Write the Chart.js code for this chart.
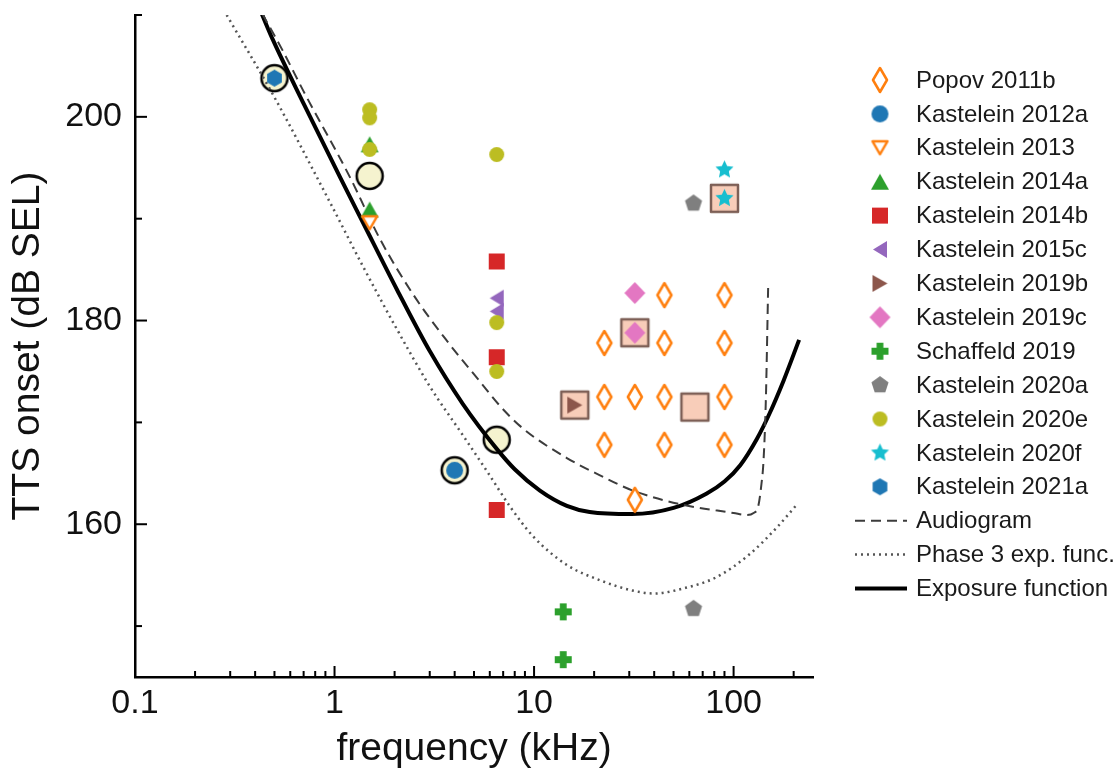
<!DOCTYPE html>
<html>
<head>
<meta charset="utf-8">
<script src="https://cdn.jsdelivr.net/npm/chart.js@4.4.1/dist/chart.umd.min.js"></script>
<style>
  html, body { margin: 0; padding: 0; background: #fff; }
  #caixa { width: 1120px; height: 773px; position: relative; }
</style>
</head>
<body>
<div id="caixa"><canvas id="grafico"></canvas></div>
<script>
// Eixos
const marcasX = [0.1, 0.2, 0.3, 0.4, 0.5, 0.6, 0.7, 0.8, 0.9, 1, 2, 3, 4, 5, 6, 7, 8, 9,
                 10, 20, 30, 40, 50, 60, 70, 80, 90, 100, 200];
const rotulosX = [0.1, 1, 10, 100];
const marcasY = [150, 160, 170, 180, 190, 200, 210];
const rotulosY = [160, 180, 200];

// Dados: frequencia (kHz) e TTS onset (dB SEL)
const popovFreq  = [45, 90, 22.5, 45, 90, 22.5, 32, 45, 90, 22.5, 45, 90, 32];
const popovNivel = [182.5, 182.5, 177.8, 177.8, 177.8, 172.5, 172.5, 172.5, 172.5, 167.8, 167.8, 167.8, 162.4];
const k2012aFreq = [4];            const k2012aNivel = [165.3];
const k2013Freq  = [1.5];          const k2013Nivel  = [189.6];
const k2014aFreq = [1.5, 1.5];     const k2014aNivel = [197.3, 190.9];
const k2014bFreq = [6.5, 6.5, 6.5]; const k2014bNivel = [185.8, 176.4, 161.4];
const k2015cFreq = [6.5, 6.5];     const k2015cNivel = [182.2, 180.9];
const k2019bFreq = [16];           const k2019bNivel = [171.7];
const k2019cFreq = [32, 32];       const k2019cNivel = [182.7, 178.8];
const schaffeldFreq = [14, 14];    const schaffeldNivel = [151.4, 146.7];
const k2020aFreq = [63, 63];       const k2020aNivel = [191.5, 151.7];
const k2020eFreq = [1.5, 1.5, 1.5, 6.5, 6.5, 6.5];
const k2020eNivel = [200.7, 199.9, 196.8, 196.3, 179.8, 175.0];
const k2020fFreq = [90, 90];       const k2020fNivel = [194.8, 192.0];
const k2021aFreq = [0.5];          const k2021aNivel = [203.8];
const aneisFreq  = [0.5, 1.5, 4, 6.5];   const aneisNivel  = [203.8, 194.2, 165.3, 168.3];
const caixasFreq = [16, 32, 64, 90];     const caixasNivel = [171.7, 178.8, 171.5, 192.0];

// Curvas
const audioFreq  = [0.435, 0.55, 0.70, 1.2, 1.69, 2.47, 3.66, 5.36, 6.76, 8.8, 14.6, 21.4, 31.3, 56, 100, 116, 126, 133, 138, 141, 145, 149];
const audioNivel = [210.1, 206.5, 202.5, 194.0, 188.0, 182.6, 178.0, 174.0, 171.6, 169.4, 166.5, 164.8, 163.3, 161.9, 161.1, 160.9, 161.1, 161.8, 164.0, 166.0, 172.0, 183.3];
const fase3Freq  = [0.288, 0.494, 0.949, 1.39, 2.06, 3.01, 4.41, 5.81, 7.6, 9.9, 14.6, 21.4, 31, 40, 56, 82, 121, 165, 207];
const fase3Nivel = [210.0, 202.1, 191.6, 185.3, 179.1, 173.5, 168.7, 165.2, 161.7, 158.8, 156.0, 154.5, 153.5, 153.2, 153.7, 154.8, 157.1, 159.7, 161.9];
const expoFreq   = [0.43, 0.49, 0.70, 1.07, 1.39, 2.06, 3.0, 4.4, 6.5, 8.0, 10.7, 14.6, 19, 31, 50, 73, 90, 108, 131, 150, 178, 213];
const expoNivel  = [210.2, 207.6, 201.3, 194.0, 189.6, 183.0, 177.0, 171.8, 167.4, 165.4, 163.3, 161.8, 161.2, 161.0, 161.6, 163.0, 164.2, 165.8, 168.4, 170.7, 174.1, 178.1];

const fonte = "'Liberation Sans', Arial, Helvetica, sans-serif";

function pares(fx, ny) { return fx.map((f, i) => ({ x: f, y: ny[i] })); }

// Marcadores desenhados num canvas pequeno
function marcador(forma, cor, w, h, contorno) {
  const pad = 4;
  const c = document.createElement('canvas');
  c.width = Math.ceil(w + pad * 2); c.height = Math.ceil(h + pad * 2);
  const g = c.getContext('2d');
  const cx = c.width / 2, cy = c.height / 2;
  const poli = (pts) => { g.moveTo(cx + pts[0][0], cy + pts[0][1]); pts.slice(1).forEach(p => g.lineTo(cx + p[0], cy + p[1])); g.closePath(); };
  g.beginPath();
  if (forma === 'circulo') g.arc(cx, cy, w / 2, 0, Math.PI * 2);
  else if (forma === 'quadrado') g.rect(cx - w / 2, cy - h / 2, w, h);
  else if (forma === 'losango') poli([[0, -h / 2], [w / 2, 0], [0, h / 2], [-w / 2, 0]]);
  else if (forma === 'triCima') poli([[0, -h / 2], [w / 2, h / 2], [-w / 2, h / 2]]);
  else if (forma === 'triBaixo') poli([[-w / 2, -h / 2], [w / 2, -h / 2], [0, h / 2]]);
  else if (forma === 'triEsq') poli([[-w / 2, 0], [w / 2, -h / 2], [w / 2, h / 2]]);
  else if (forma === 'triDir') poli([[w / 2, 0], [-w / 2, -h / 2], [-w / 2, h / 2]]);
  else if (forma === 'cruz') {
    const a = w / 2, t = w * 0.2;
    poli([[-t, -a], [t, -a], [t, -t], [a, -t], [a, t], [t, t], [t, a], [-t, a], [-t, t], [-a, t], [-a, -t], [-t, -t]]);
  } else if (forma === 'pentagono' || forma === 'hexagono') {
    const n = forma === 'pentagono' ? 5 : 6, pts = [];
    for (let i = 0; i < n; i++) { const ang = -Math.PI / 2 + i * 2 * Math.PI / n; pts.push([w / 2 * Math.cos(ang), w / 2 * Math.sin(ang)]); }
    poli(pts);
  } else if (forma === 'estrela') {
    const pts = [];
    for (let i = 0; i < 10; i++) { const r = i % 2 ? w * 0.24 : w / 2; const ang = -Math.PI / 2 + i * Math.PI / 5; pts.push([r * Math.cos(ang), r * Math.sin(ang)]); }
    poli(pts);
  }
  if (contorno) {
    g.fillStyle = contorno.fundo; g.fill();
    g.lineWidth = contorno.espessura; g.strokeStyle = cor; g.lineJoin = 'round'; g.stroke();
  } else { g.fillStyle = cor; g.fill(); }
  return c;
}

const laranja = '#ff7f0e', azul = '#1f77b4', verde = '#2ca02c', vermelho = '#d62728', roxo = '#9467bd',
      marrom = '#8c564b', rosa = '#e377c2', cinza = '#7f7f7f', oliva = '#bcbd22', ciano = '#17becf';

function serie(rotulo, fx, ny, estilo, ordem) {
  return { label: rotulo, data: pares(fx, ny), pointStyle: estilo, pointRadius: 8, order: ordem || 0, legenda: true };
}
function curva(rotulo, fx, ny, cor, largura, tracejado) {
  return { label: rotulo, data: pares(fx, ny), showLine: true, pointRadius: 0, borderColor: cor, borderWidth: largura,
           borderDash: tracejado, cubicInterpolationMode: 'monotone', order: 5, legenda: true };
}

const datasets = [
  serie('Popov 2011b', popovFreq, popovNivel, marcador('losango', laranja, 14, 24, { fundo: '#fff', espessura: 2.5 })),
  serie('Kastelein 2012a', k2012aFreq, k2012aNivel, marcador('circulo', azul, 17, 17)),
  serie('Kastelein 2013', k2013Freq, k2013Nivel, marcador('triBaixo', laranja, 15, 13, { fundo: '#fff', espessura: 2.5 })),
  serie('Kastelein 2014a', k2014aFreq, k2014aNivel, marcador('triCima', verde, 18, 16)),
  serie('Kastelein 2014b', k2014bFreq, k2014bNivel, marcador('quadrado', vermelho, 16, 16)),
  serie('Kastelein 2015c', k2015cFreq, k2015cNivel, marcador('triEsq', roxo, 14, 17)),
  serie('Kastelein 2019b', k2019bFreq, k2019bNivel, marcador('triDir', marrom, 15, 17)),
  serie('Kastelein 2019c', k2019cFreq, k2019cNivel, marcador('losango', rosa, 21, 22)),
  serie('Schaffeld 2019', schaffeldFreq, schaffeldNivel, marcador('cruz', verde, 17, 17)),
  serie('Kastelein 2020a', k2020aFreq, k2020aNivel, marcador('pentagono', cinza, 18, 18)),
  serie('Kastelein 2020e', k2020eFreq, k2020eNivel, marcador('circulo', oliva, 15, 15), -1),
  serie('Kastelein 2020f', k2020fFreq, k2020fNivel, marcador('estrela', ciano, 19, 19)),
  serie('Kastelein 2021a', k2021aFreq, k2021aNivel, marcador('hexagono', azul, 17, 17)),
  curva('Audiogram', audioFreq, audioNivel, '#3c3c3c', 2, [10, 6]),
  curva('Phase 3 exp. func.', fase3Freq, fase3Nivel, '#555', 2.5, [2, 4]),
  curva('Exposure function', expoFreq, expoNivel, '#000', 4, []),
  { label: 'aneis', data: pares(aneisFreq, aneisNivel), pointStyle: marcador('circulo', '#000', 26, 26, { fundo: '#f5f3cf', espessura: 2.5 }),
    pointRadius: 13, order: 10, legenda: false },
  { label: 'caixas', data: pares(caixasFreq, caixasNivel), pointStyle: marcador('quadrado', '#7d5f56', 27, 27, { fundo: '#f8cdb9', espessura: 2.5 }),
    pointRadius: 13, order: 10, legenda: false }
];

// Marcas para dentro + legenda
const extras = {
  id: 'extras',
  afterDraw(chart) {
    const { ctx, chartArea: a, scales: { x, y } } = chart;
    ctx.save();
    ctx.strokeStyle = '#000'; ctx.lineWidth = 2;
    marcasX.forEach(v => {
      const px = x.getPixelForValue(v);
      const len = rotulosX.includes(v) ? 11 : 6;
      ctx.beginPath(); ctx.moveTo(px, a.bottom); ctx.lineTo(px, a.bottom - len); ctx.stroke();
    });
    marcasY.forEach(v => {
      const py = y.getPixelForValue(v);
      const len = rotulosY.includes(v) ? 12 : 7;
      ctx.beginPath(); ctx.moveTo(a.left, py); ctx.lineTo(a.left + len, py); ctx.stroke();
    });

    // legenda
    let ly = 80;
    ctx.font = '24px ' + fonte; ctx.fillStyle = '#1a1a1a'; ctx.textBaseline = 'middle'; ctx.textAlign = 'left';
    chart.data.datasets.filter(d => d.legenda).forEach(d => {
      if (d.showLine) {
        ctx.save();
        ctx.strokeStyle = d.borderColor; ctx.lineWidth = d.borderWidth; ctx.setLineDash(d.borderDash);
        ctx.beginPath(); ctx.moveTo(855, ly); ctx.lineTo(907, ly); ctx.stroke();
        ctx.restore();
      } else {
        const im = d.pointStyle;
        ctx.drawImage(im, 880 - im.width / 2, ly - im.height / 2);
      }
      ctx.fillText(d.label, 916, ly + 1);
      ly += 33.9;
    });
    ctx.restore();
  }
};

new Chart(document.getElementById('grafico'), {
  type: 'scatter',
  data: { datasets },
  plugins: [extras],
  options: {
    responsive: true, maintainAspectRatio: false, animation: false, devicePixelRatio: 1,
    layout: { padding: { left: 0, right: 307, top: 15, bottom: 0 } },
    plugins: { legend: { display: false }, tooltip: { enabled: false } },
    scales: {
      x: {
        type: 'logarithmic', min: 0.1, max: 250,
        afterBuildTicks: s => { s.ticks = marcasX.map(v => ({ value: v })); },
        afterFit: s => { s.height = 96; s.paddingLeft = 0; s.paddingRight = 0; },
        grid: { display: true, drawOnChartArea: false, drawTicks: false, color: 'rgba(0,0,0,0)' },
        border: { display: true, color: '#000', width: 2.5 },
        ticks: { autoSkip: false, maxRotation: 0, padding: 6, color: '#111', font: { family: fonte, size: 34 },
                 callback: v => rotulosX.includes(v) ? String(v) : '' },
        title: { display: true, text: 'frequency (kHz)', color: '#111', font: { family: fonte, size: 39 }, padding: { top: 0, bottom: 0 } }
      },
      y: {
        type: 'linear', min: 145, max: 210,
        afterBuildTicks: s => { s.ticks = marcasY.map(v => ({ value: v })); },
        afterFit: s => { s.width = 135; s.paddingTop = 0; s.paddingBottom = 0; },
        grid: { display: true, drawOnChartArea: false, drawTicks: false, color: 'rgba(0,0,0,0)' },
        border: { display: true, color: '#000', width: 2.5 },
        ticks: { padding: 13, color: '#111', font: { family: fonte, size: 34 },
                 callback: v => rotulosY.includes(v) ? String(v) : '' },
        title: { display: true, text: 'TTS onset (dB SEL)', color: '#111', font: { family: fonte, size: 39 }, padding: { top: 5, bottom: 0 } }
      }
    }
  }
});
</script>
</body>
</html>
